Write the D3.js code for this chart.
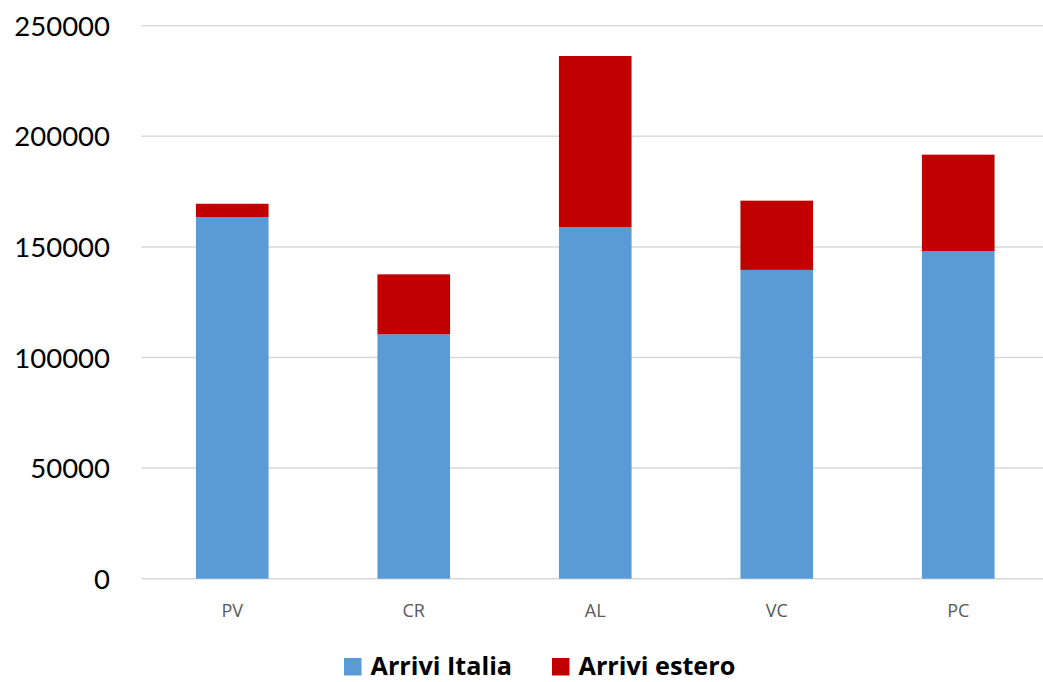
<!DOCTYPE html>
<html>
<head>
<meta charset="utf-8">
<script src="https://cdn.jsdelivr.net/npm/d3@7"></script>
<style>
  html, body { margin: 0; padding: 0; background: #fff; }
  svg { display: block; }
</style>
</head>
<body>
<svg id="chart" width="1043" height="682"></svg>
<script>
const categories = ["PV", "CR", "AL", "VC", "PC"];
const arriviItalia = [163500, 110500, 159000, 139600, 148100];
const arriviEstero = [6000, 27100, 77300, 31300, 43600];
const seriesNames = ["Arrivi Italia", "Arrivi estero"];
const seriesColors = ["#5B9BD5", "#C00000"];
const yTicks = [0, 50000, 100000, 150000, 200000, 250000];

const svg = d3.select("#chart");
const margin = { left: 141.5, right: -6, top: 25.7, bottom: 103.3 };
const W = 1043, H = 682;

const x = d3.scaleBand().domain(categories)
  .range([margin.left, W - margin.right]).paddingInner(0.6).paddingOuter(0.3);
const y = d3.scaleLinear().domain([0, 250000]).range([H - margin.bottom, margin.top]);

// gridlines
svg.append("g").selectAll("line").data(yTicks).join("line")
  .attr("x1", margin.left).attr("x2", W)
  .attr("y1", d => y(d)).attr("y2", d => y(d))
  .attr("stroke", "#d9d9d9").attr("stroke-width", 1.5);

// y axis labels
const yAxis = d3.axisLeft(y).tickValues(yTicks).tickSize(0).tickPadding(0).tickFormat(d3.format("d"));
const gy = svg.append("g").attr("transform", `translate(110,0)`).call(yAxis);
gy.select(".domain").remove();
gy.selectAll("text").attr("font-family", "Lato, 'Open Sans', sans-serif")
  .attr("font-size", 27.5).attr("fill", "#000").attr("dy", "0.35em");

// stacked data
const rows = categories.map((c, i) => ({ cat: c, "Arrivi Italia": arriviItalia[i], "Arrivi estero": arriviEstero[i] }));
const stack = d3.stack().keys(seriesNames)(rows);

svg.append("g").selectAll("g").data(stack).join("g")
  .attr("fill", (d, i) => seriesColors[i])
  .selectAll("rect").data(d => d).join("rect")
  .attr("x", d => x(d.data.cat))
  .attr("width", x.bandwidth())
  .attr("y", d => y(d[1]))
  .attr("height", d => y(d[0]) - y(d[1]));

// x axis labels
const xAxis = d3.axisBottom(x).tickSize(0).tickPadding(0);
const gx = svg.append("g").attr("transform", `translate(0,${y(0) + 38})`).call(xAxis);
gx.select(".domain").remove();
gx.selectAll("text").attr("font-family", "'Open Sans', sans-serif")
  .attr("font-size", 18).attr("fill", "#595959").attr("dy", "0");

// legend
const legendX = [344, 552];
const lg = svg.append("g");
seriesNames.forEach((name, i) => {
  lg.append("rect").attr("x", legendX[i]).attr("y", 658).attr("width", 17.5).attr("height", 17.5)
    .attr("fill", seriesColors[i]);
  lg.append("text").attr("x", legendX[i] + 26.5).attr("y", 674.5)
    .attr("font-family", "'Open Sans', sans-serif").attr("font-weight", "bold")
    .attr("font-size", 25.2).attr("fill", "#000").text(name);
});
</script>
</body>
</html>
